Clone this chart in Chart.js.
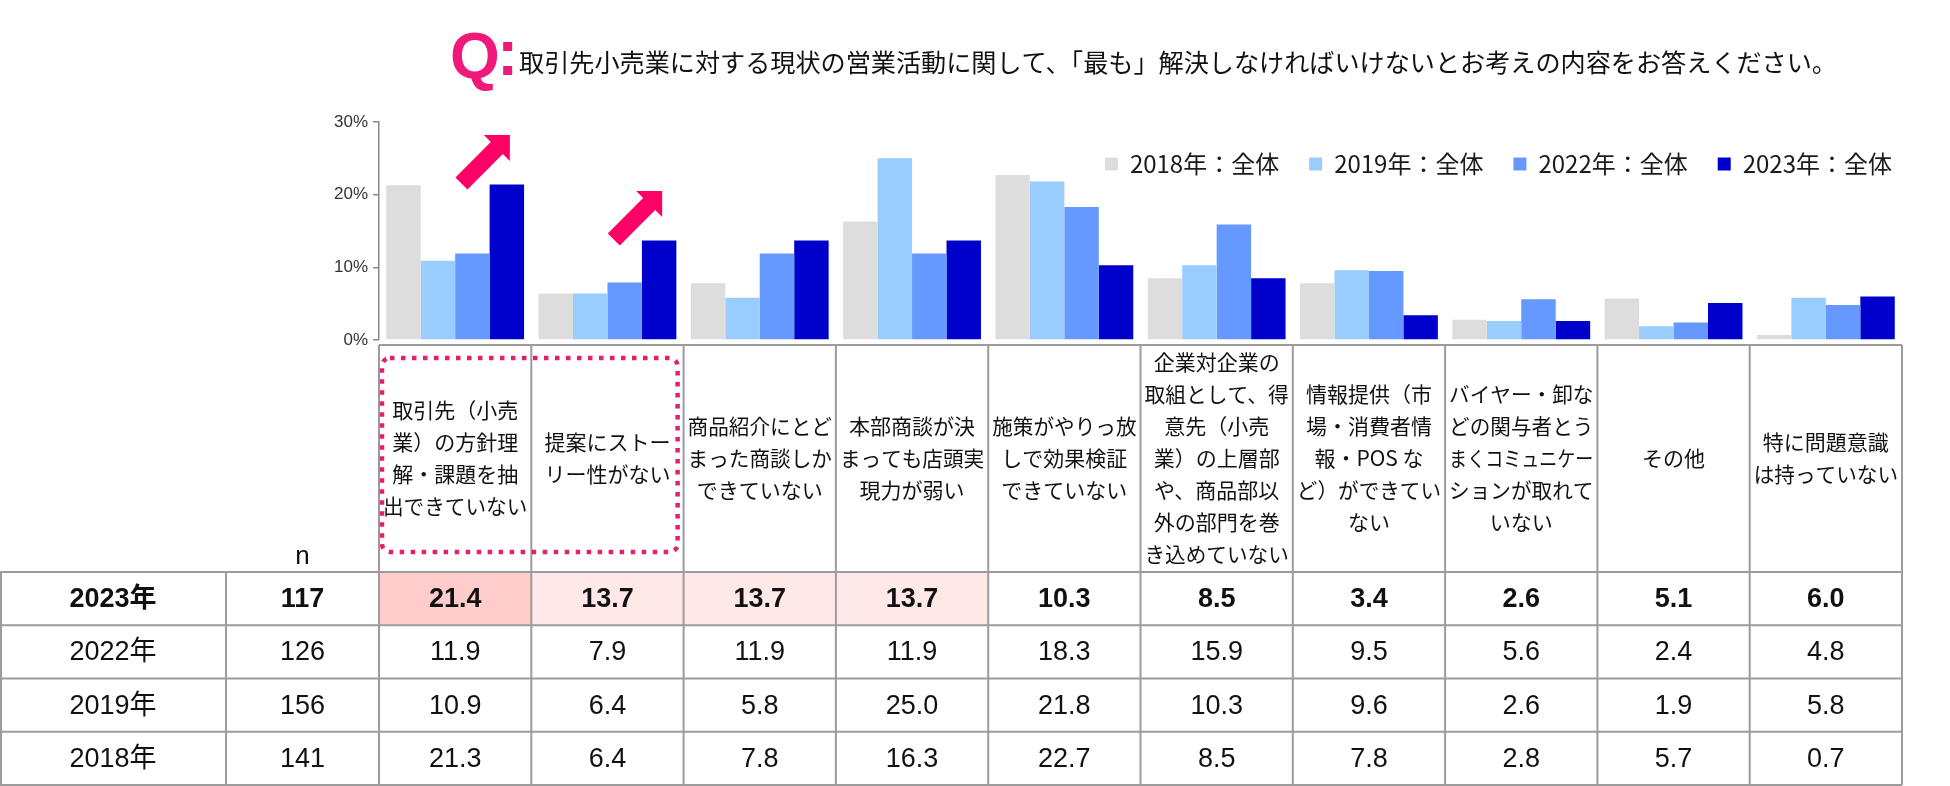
<!DOCTYPE html>
<html lang="ja">
<head>
<meta charset="utf-8">
<title>取引先小売業に対する営業活動の課題</title>
<script src="https://cdn.jsdelivr.net/npm/chart.js@4.4.1/dist/chart.umd.min.js"></script>
<style>
  html, body { margin: 0; padding: 0; background: #fff; }
  #wrap { width: 1950px; height: 786px; }
</style>
</head>
<body>
<div id="wrap"><canvas id="chart" width="1950" height="786"></canvas></div>
<script>
// header of every column, one entry per line as in the source table
const categories = [
    ['取引先（小売', '業）の方針理', '解・課題を抽', '出できていない'],
    ['提案にストー', 'リー性がない'],
    ['商品紹介にとど', 'まった商談しか', 'できていない'],
    ['本部商談が決', 'まっても店頭実', '現力が弱い'],
    ['施策がやりっ放', 'しで効果検証', 'できていない'],
    ['企業対企業の', '取組として、得', '意先（小売', '業）の上層部', 'や、商品部以', '外の部門を巻', 'き込めていない'],
    ['情報提供（市', '場・消費者情', '報・POS な', 'ど）ができてい', 'ない'],
    ['バイヤー・卸な', 'どの関与者とう', 'まくコミュニケー', 'ションが取れて', 'いない'],
    ['その他'],
    ['特に問題意識', 'は持っていない']
];

const values2018 = [21.3, 6.4, 7.8, 16.3, 22.7, 8.5, 7.8, 2.8, 5.7, 0.7];
const values2019 = [10.9, 6.4, 5.8, 25.0, 21.8, 10.3, 9.6, 2.6, 1.9, 5.8];
const values2022 = [11.9, 7.9, 11.9, 11.9, 18.3, 15.9, 9.5, 5.6, 2.4, 4.8];
const values2023 = [21.4, 13.7, 13.7, 13.7, 10.3, 8.5, 3.4, 2.6, 5.1, 6.0];

const seriesLabels = ['2018年：全体', '2019年：全体', '2022年：全体', '2023年：全体'];
const seriesColors = ['#DDDDDD', '#99CCFF', '#6699FF', '#0000CC'];

// table rows, newest first
const tableYears = ['2023年', '2022年', '2019年', '2018年'];
const tableN = [117, 126, 156, 141];
const tableValues = [values2023, values2022, values2019, values2018];

const yTicks = [0, 10, 20, 30];
const arrowCategories = [0, 1];   // columns marked with the rising arrow
const boxedCategories = [0, 1];   // columns framed by the dotted box

const titleText = '取引先小売業に対する現状の営業活動に関して、「最も」解決しなければいけないとお考えの内容をお答えください。';

const JP = '"Noto Sans CJK JP", sans-serif';
const NUM = '"Liberation Sans", "Noto Sans CJK JP", sans-serif';

Chart.defaults.font.family = NUM;

const titlePlugin = {
    id: 'questionTitle',
    afterDraw: function(chart) {
        const ctx = chart.ctx;
        ctx.save();
        ctx.textBaseline = 'alphabetic';
        ctx.textAlign = 'left';
        ctx.fillStyle = '#F0197A';
        ctx.font = 'bold 64px "Liberation Sans"';
        ctx.fillText('Q', 450, 78);
        ctx.fillText(':', 497, 75);
        ctx.fillStyle = '#111';
        ctx.font = '25.3px ' + JP;
        ctx.fillText(titleText, 519, 72, 1318);
        ctx.restore();
    }
};

function drawArrow(ctx, tx, ty) {
    const L = 26, w = 17, len = 50;
    const s = Math.SQRT1_2;
    const mx = tx - L / 2, my = ty + L / 2;
    const p = w / 2 * s;
    const ex = mx - len * s, ey = my + len * s;
    ctx.beginPath();
    ctx.moveTo(tx - L, ty);
    ctx.lineTo(tx, ty);
    ctx.lineTo(tx, ty + L);
    ctx.lineTo(mx + p, my + p);
    ctx.lineTo(ex + p, ey + p);
    ctx.lineTo(ex - p, ey - p);
    ctx.lineTo(mx - p, my - p);
    ctx.closePath();
    ctx.fill();
}

const arrowPlugin = {
    id: 'riseArrows',
    afterDatasetsDraw: function(chart) {
        const ctx = chart.ctx;
        const y = chart.scales.y;
        const meta = chart.getDatasetMeta(3);
        ctx.save();
        ctx.fillStyle = '#FF0066';
        arrowCategories.forEach(function(i) {
            const bar = meta.data[i];
            drawArrow(ctx, bar.x + 3, y.getPixelForValue(values2023[i] + 6.8));
        });
        ctx.restore();
    }
};

const tablePlugin = {
    id: 'answerTable',
    afterDraw: function(chart) {
        const ctx = chart.ctx;
        const xs = chart.scales.x;
        const area = chart.chartArea;
        const colW = xs.width / categories.length;
        const colLeft = function(i) { return xs.getPixelForValue(i) - colW / 2; };
        const right = area.right;
        const headTop = area.bottom + 5;
        const headBottom = 572;
        const rowH = 53.25;
        const bottom = headBottom + rowH * tableYears.length;
        const labelRight = 226;

        ctx.save();

        // highlight the top two answers of 2023
        const ranked = Array.from(new Set(values2023)).sort(function(a, b) { return b - a; });
        values2023.forEach(function(v, i) {
            let fill = null;
            if (v === ranked[0]) fill = '#FFCCCC';
            else if (v === ranked[1]) fill = '#FFE8E8';
            if (fill) {
                ctx.fillStyle = fill;
                ctx.fillRect(colLeft(i), headBottom, colW, rowH);
            }
        });

        // grid
        ctx.strokeStyle = '#9C9C9C';
        ctx.lineWidth = 2;
        ctx.beginPath();
        ctx.moveTo(area.left, headTop);
        ctx.lineTo(right, headTop);
        for (let r = 0; r <= tableYears.length; r++) {
            ctx.moveTo(0, headBottom + r * rowH);
            ctx.lineTo(right, headBottom + r * rowH);
        }
        for (let i = 0; i <= categories.length; i++) {
            const x = i === categories.length ? right : colLeft(i);
            ctx.moveTo(x, headTop);
            ctx.lineTo(x, bottom);
        }
        [1, labelRight].forEach(function(x) {
            ctx.moveTo(x, headBottom);
            ctx.lineTo(x, bottom);
        });
        ctx.stroke();

        // column headers
        ctx.fillStyle = '#111';
        ctx.textAlign = 'center';
        ctx.textBaseline = 'middle';
        ctx.font = '21px ' + JP;
        const lineH = 32;
        const headMid = (headTop + headBottom) / 2;
        categories.forEach(function(lines, i) {
            const cx = xs.getPixelForValue(i);
            lines.forEach(function(line, k) {
                const ly = headMid + (k - (lines.length - 1) / 2) * lineH;
                ctx.fillText(line, cx, ly, colW - 8);
            });
        });

        ctx.font = '26px ' + NUM;
        ctx.fillText('n', (labelRight + area.left) / 2, 557);

        // body
        tableYears.forEach(function(year, r) {
            const cy = headBottom + r * rowH + rowH / 2 + 1;
            ctx.font = (r === 0 ? 'bold ' : '') + '27px ' + NUM;
            ctx.fillText(year, labelRight / 2, cy);
            ctx.fillText(String(tableN[r]), (labelRight + area.left) / 2, cy);
            tableValues[r].forEach(function(v, i) {
                ctx.fillText(v.toFixed(1), xs.getPixelForValue(i), cy);
            });
        });

        // dotted frame round the highlighted headers
        const first = Math.min.apply(null, boxedCategories);
        const last = Math.max.apply(null, boxedCategories);
        const bx = colLeft(first) + 3;
        const bw = colLeft(last) + colW - 6 - bx;
        ctx.strokeStyle = '#E4206E';
        ctx.lineWidth = 4.5;
        ctx.setLineDash([4.5, 6.5]);
        ctx.beginPath();
        ctx.roundRect(bx, 358, bw, 194, 8);
        ctx.stroke();

        ctx.restore();
    }
};

// the legend sits inside the plot, top right: move the top legend box down into it
const LEGEND_TEXT_Y = 164;
const legendShift = {
    id: 'legendShift',
    afterLayout: function(chart) {
        const lg = chart.legend;
        if (!lg) return;
        const pad = lg.options.labels.padding;
        const size = lg.options.labels.font.size;
        const dy = LEGEND_TEXT_Y - (lg.top + pad + size / 2);
        lg.top += dy;
        lg.bottom += dy;
        lg.left += 20;
        lg.right += 20;
    }
};

const datasets = [values2018, values2019, values2022, values2023].map(function(vals, k) {
    return {
        label: seriesLabels[k],
        data: vals,
        backgroundColor: seriesColors[k],
        borderWidth: 0,
        barPercentage: 1.0,
        categoryPercentage: 0.905
    };
});

new Chart(document.getElementById('chart'), {
    type: 'bar',
    data: {
        labels: categories,
        datasets: datasets
    },
    options: {
        responsive: false,
        animation: false,
        devicePixelRatio: 1,
        layout: {
            padding: { left: 0, top: 58, right: 48, bottom: 446 }
        },
        plugins: {
            legend: {
                position: 'top',
                align: 'end',
                labels: {
                    boxWidth: 13,
                    boxHeight: 13,
                    padding: 30,
                    color: '#1a1a1a',
                    font: { family: JP, size: 24 }
                }
            },
            tooltip: { enabled: false },
            title: { display: false }
        },
        scales: {
            x: {
                display: false
            },
            y: {
                min: yTicks[0],
                max: yTicks[yTicks.length - 1],
                afterFit: function(scale) { scale.width = 379; },
                afterBuildTicks: function(scale) {
                    scale.ticks = yTicks.map(function(v) { return { value: v }; });
                },
                ticks: {
                    callback: function(v) { return v + '%'; },
                    color: '#333',
                    padding: 5,
                    font: { family: NUM, size: 17 }
                },
                grid: {
                    drawOnChartArea: false,
                    tickLength: 6,
                    color: '#888',
                    lineWidth: 1.5
                },
                border: { color: '#888', width: 1.5 }
            }
        }
    },
    plugins: [titlePlugin, arrowPlugin, tablePlugin, legendShift]
});
</script>
</body>
</html>
